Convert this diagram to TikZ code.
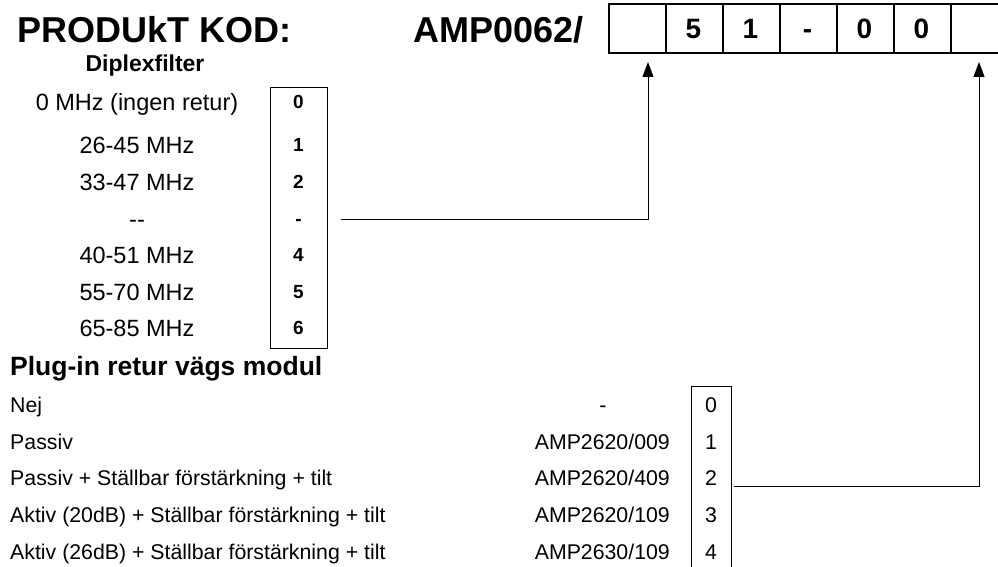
\documentclass[tikz,border=0pt]{standalone}
\usepackage{fontspec}
\setmainfont{Liberation Sans}
\usetikzlibrary{arrows.meta}
\tikzset{
  title/.style={font=\fontsize{36}{40}\selectfont\bfseries, anchor=base west, inner sep=0pt},
  head/.style={font=\fontsize{23}{26}\selectfont\bfseries, inner sep=0pt},
  dlabel/.style={font=\fontsize{23.5}{26}\selectfont, anchor=base, inner sep=0pt},
  ddigit/.style={font=\fontsize{19}{22}\selectfont\bfseries, anchor=base, inner sep=0pt},
  plabel/.style={font=\fontsize{21.3}{24}\selectfont, inner sep=0pt},
  cell/.style={draw, line width=1.6pt, minimum width=57pt, minimum height=49pt, inner sep=0pt, anchor=north west},
  cdigit/.style={font=\fontsize{28}{30}\selectfont\bfseries, anchor=base, inner sep=0pt},
  frame/.style={draw, line width=1.3pt, inner sep=0pt, anchor=north west},
  conn/.style={line width=1pt, -{Triangle[length=15pt,width=11pt]}},
}
\begin{document}
\begin{tikzpicture}[x=1pt,y=-1pt]
\useasboundingbox (0,0) rectangle (998,567);
% title
\node[title] (t1) at (17,43) {PRODUkT KOD:};
\node[title] (t2) at (413,43) {AMP0062/};
% code cells
\foreach \i/\t in {0/,1/5,2/1,3/-,4/0,5/0,6/} {
  \node[cell] (c\i) at ({608+57*\i},3) {};
  \node[cdigit] at ({636.5+57*\i},39) {\t};
}
% diplexfilter
\node[head, anchor=base] (dh) at (145,72) {Diplexfilter};
\node[frame, minimum width=57pt, minimum height=261pt] (dbox) at (270,87) {};
\foreach \y/\l/\d [count=\k] in {102/0 MHz (ingen retur)/0, 145/26-45 MHz/1, 182/33-47 MHz/2, 219/{-}{-}/-, 255/40-51 MHz/4, 292/55-70 MHz/5, 328/65-85 MHz/6} {
  \node[dlabel] (dl\k) at (137,\y+8.4) {\l};
  \node[ddigit] (dd\k) at (298.5,\y+6.8) {\d};
}
% plug-in
\node[head, font=\fontsize{26.5}{30}\selectfont\bfseries, anchor=base west] (ph) at (10,375) {Plug-in retur vägs modul};
\node[frame, minimum width=40pt, minimum height=200pt] (pbox) at (691,386) {};
\foreach \y/\l/\d [count=\k] in {405/Nej/0, 442/Passiv/1, 478/Passiv + Ställbar förstärkning + tilt/2, 515/Aktiv (20dB) + Ställbar förstärkning + tilt/3, 552/Aktiv (26dB) + Ställbar förstärkning + tilt/4} {
  \node[plabel, anchor=base west] (pl\k) at (10,\y+7.6) {\l};
  \node[plabel, anchor=base] (pd\k) at (711,\y+7.6) {\d};
}
\node[plabel, anchor=base] (pc1) at (603,412.6) {-};
\node[plabel, anchor=base east] (pc2) at (670,449.6) {AMP2620/009};
\node[plabel, anchor=base east] (pc3) at (670,485.6) {AMP2620/409};
\node[plabel, anchor=base east] (pc4) at (670,522.6) {AMP2620/109};
\node[plabel, anchor=base east] (pc5) at (670,559.6) {AMP2630/109};
% connectors
\coordinate (a1) at (648,62);
\coordinate (a2) at (979,62);
\draw[conn] ([xshift=13pt]dbox.east |- 0,219) -- (a1 |- 0,219) -- (a1);
\draw[conn] ([xshift=2pt]pbox.east |- 0,486) -- (a2 |- 0,486) -- (a2);
\end{tikzpicture}
\end{document}
